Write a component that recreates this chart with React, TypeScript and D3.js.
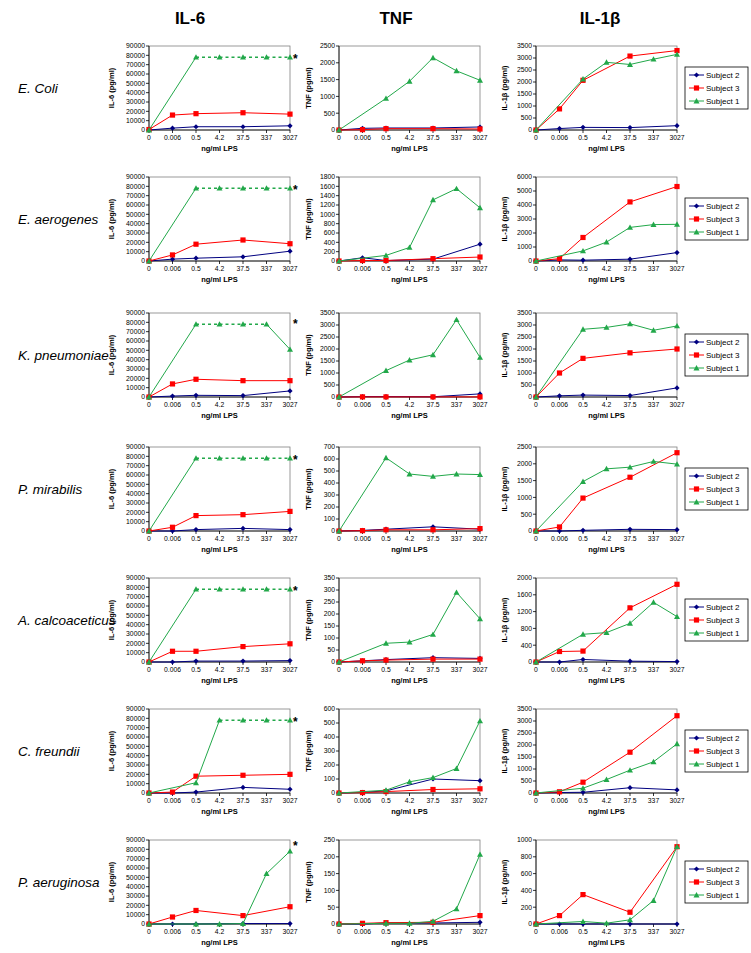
import React from "react";
import * as d3 from "d3";

// ---------- DATA ----------
const CATEGORIES = ["0", "0.006", "0.5", "4.2", "37.5", "337", "3027"];
const CYTOKINES = ["IL-6", "TNF", "IL-1β"];
const Y_TITLES = ["IL-6 (pg/ml)", "TNF (pg/ml)", "IL-1β (pg/ml)"];
const BACTERIA = ["E. Coli", "E. aerogenes", "K. pneumoniae", "P. mirabilis", "A. calcoaceticus", "C. freundii", "P. aeruginosa"];
const SUBJECTS = ["Subject 2", "Subject 3", "Subject 1"];
const SATURATION = 78000;

// y-axis [max, step] per row, for IL-6, TNF, IL-1β
const IL6_AXES = [[90000, 10000], [90000, 10000], [90000, 10000], [90000, 10000], [90000, 10000], [90000, 10000], [90000, 10000]];
const TNF_AXES = [[2500, 500], [1800, 200], [3500, 500], [700, 100], [350, 50], [600, 100], [250, 50]];
const IL1B_AXES = [[3500, 500], [6000, 1000], [3500, 500], [2500, 500], [2000, 400], [3500, 500], [1000, 200]];

// asterisk value level on IL-6 charts
const STAR_LEVEL = [78000, 78000, 80000, 78000, 78000, 78000, 86000];

type V = number | null;
// each: [Subject 2, Subject 3, Subject 1]
const ECOLI_IL6: V[][] = [[0, 2000, 3500, null, 3500, null, 4500], [500, 16000, 17500, null, 18500, null, 17000], [0, null, 78000, 78000, 78000, 78000, 78000]];
const ECOLI_TNF: V[][] = [[0, 50, 60, null, 60, null, 90], [0, 10, 40, null, 40, null, 30], [0, null, 940, 1450, 2150, 1760, 1480]];
const ECOLI_IL1B: V[][] = [[0, 60, 110, null, 100, null, 180], [0, 880, 2070, null, 3080, null, 3310], [0, null, 2120, 2820, 2730, 2950, 3150]];

const EAERO_IL6: V[][] = [[0, 2000, 3000, null, 4500, null, 10500], [0, 6500, 18000, null, 22500, null, 18500], [0, null, 78000, 78000, 78000, 78000, 78000]];
const EAERO_TNF: V[][] = [[0, 70, 10, null, 40, null, 360], [0, 10, 10, null, 50, null, 85], [0, null, 120, 290, 1310, 1550, 1140]];
const EAERO_IL1B: V[][] = [[0, 80, 60, null, 130, null, 600], [0, 170, 1680, null, 4220, null, 5320], [0, null, 720, 1350, 2400, 2600, 2620]];

const KPNEU_IL6: V[][] = [[0, 1000, 1800, null, 1500, null, 6500], [0, 14000, 19000, null, 17500, null, 17500], [0, null, 78000, 78000, 78000, 78000, 51000]];
const KPNEU_TNF: V[][] = [[0, 20, 20, null, 10, null, 130], [0, 5, 5, null, 5, null, 5], [0, null, 1100, 1540, 1760, 3220, 1650]];
const KPNEU_IL1B: V[][] = [[0, 50, 80, null, 60, null, 380], [0, 1000, 1610, null, 1840, null, 2000], [0, null, 2820, 2900, 3050, 2780, 2960]];

const PMIRA_IL6: V[][] = [[0, 0, 1500, null, 2800, null, 1500], [0, 4000, 16500, null, 17500, null, 21000], [0, null, 78000, 78000, 78000, 78000, 78000]];
const PMIRA_TNF: V[][] = [[0, 5, 15, null, 35, null, 15], [0, 3, 10, null, 10, null, 20], [0, null, 610, 475, 455, 475, 470]];
const PMIRA_IL1B: V[][] = [[0, 0, 20, null, 50, null, 40], [0, 120, 980, null, 1600, null, 2330], [0, null, 1470, 1850, 1900, 2070, 1990]];

const ACALC_IL6: V[][] = [[0, 0, 1000, null, 1000, null, 1500], [0, 11500, 11500, null, 16500, null, 19500], [0, null, 78000, 78000, 78000, 78000, 78000]];
const ACALC_TNF: V[][] = [[0, 5, 10, null, 18, null, 15], [0, 5, 8, null, 12, null, 12], [0, null, 78, 83, 115, 290, 180]];
const ACALC_IL1B: V[][] = [[0, 0, 60, null, 20, null, 10], [0, 250, 260, null, 1290, null, 1850], [0, null, 660, 700, 920, 1420, 1080]];

const CFREU_IL6: V[][] = [[0, 0, 1000, null, 6000, null, 4000], [0, 1000, 18000, null, 19000, null, 20000], [0, null, 11000, 78000, 78000, 78000, 78000]];
const CFREU_TNF: V[][] = [[0, 5, 15, null, 100, null, 88], [0, 3, 10, null, 25, null, 30], [0, null, 20, 80, 110, 175, 515]];
const CFREU_IL1B: V[][] = [[0, 20, 30, null, 220, null, 130], [0, 50, 450, null, 1700, null, 3220], [0, null, 200, 560, 950, 1300, 2050]];

const PAERU_IL6: V[][] = [[0, 0, 0, null, 500, null, 500], [0, 7500, 14500, null, 9000, null, 18500], [0, null, 0, 0, 500, 54000, 78000]];
const PAERU_TNF: V[][] = [[0, 0, 3, null, 3, null, 5], [0, 2, 4, null, 5, null, 25], [0, null, 2, 2, 8, 45, 207]];
const PAERU_IL1B: V[][] = [[0, 0, 0, null, 0, null, 0], [0, 100, 350, null, 140, null, 920], [0, null, 30, 10, 50, 280, 920]];

const ROWS_DATA = [
  [ECOLI_IL6, ECOLI_TNF, ECOLI_IL1B],
  [EAERO_IL6, EAERO_TNF, EAERO_IL1B],
  [KPNEU_IL6, KPNEU_TNF, KPNEU_IL1B],
  [PMIRA_IL6, PMIRA_TNF, PMIRA_IL1B],
  [ACALC_IL6, ACALC_TNF, ACALC_IL1B],
  [CFREU_IL6, CFREU_TNF, CFREU_IL1B],
  [PAERU_IL6, PAERU_TNF, PAERU_IL1B],
];
const AXES = [IL6_AXES, TNF_AXES, IL1B_AXES];

// ---------- STYLE / LAYOUT ----------
const COLORS = ["#000080", "#FF0000", "#22A84A"];
const FONT = "Arial, 'Liberation Sans', sans-serif";
const COL_LEFT = [149, 339, 536];
const COL_TITLE_OFF = [-35, -28, -29];
const COL_HEAD_X = [190, 396, 600];
const ROW_TOP = [46, 177, 313, 447, 578, 709, 840];
const PW = 141;
const PH = 84;

function Marker({ kind, x, y, color }: { kind: number; x: number; y: number; color: string }) {
  if (kind === 0) {
    const s = 2.6;
    return <path d={`M${x},${y - s}L${x + s},${y}L${x},${y + s}L${x - s},${y}Z`} fill={color} />;
  }
  if (kind === 1) {
    return <rect x={x - 2.6} y={y - 2.6} width={5.2} height={5.2} fill={color} />;
  }
  const s = 3;
  return <path d={`M${x},${y - s}L${x + s},${y + s * 0.8}L${x - s},${y + s * 0.8}Z`} fill={color} />;
}

function Panel({ row, col }: { row: number; col: number }) {
  const left = COL_LEFT[col];
  const top = ROW_TOP[row];
  const [max, step] = AXES[col][row];
  const series = ROWS_DATA[row][col];
  const x = d3.scalePoint<string>().domain(CATEGORIES).range([0, PW]).padding(0);
  const y = d3.scaleLinear().domain([0, max]).range([PH, 0]);
  const ticks = d3.range(0, max + step / 2, step);
  const line = d3.line<[number, number]>().x((d) => d[0]).y((d) => d[1]);

  return (
    <g transform={`translate(${left},${top})`}>
      <rect x={0} y={0} width={PW} height={PH} fill="none" stroke="#808080" strokeWidth={0.8} />
      {/* y axis */}
      <line x1={0} y1={0} x2={0} y2={PH} stroke="#000" strokeWidth={0.8} />
      {ticks.map((t) => (
        <g key={t}>
          <line x1={-3} x2={0} y1={y(t)} y2={y(t)} stroke="#000" strokeWidth={0.8} />
          <text x={-4} y={y(t) + 2.4} fontSize={6.8} textAnchor="end" fontFamily={FONT} fill="#000">
            {t}
          </text>
        </g>
      ))}
      {/* x axis */}
      <line x1={0} y1={PH} x2={PW} y2={PH} stroke="#000" strokeWidth={0.8} />
      {CATEGORIES.map((c) => (
        <g key={c}>
          <line x1={x(c)} x2={x(c)} y1={PH} y2={PH + 3} stroke="#000" strokeWidth={0.8} />
          <text x={x(c)} y={PH + 9.5} fontSize={6.8} textAnchor="middle" fontFamily={FONT} fill="#000">
            {c}
          </text>
        </g>
      ))}
      <text x={PW / 2} y={PH + 21} fontSize={7.5} fontWeight="bold" textAnchor="middle" fontFamily={FONT}>
        ng/ml LPS
      </text>
      <text
        transform={`translate(${COL_TITLE_OFF[col]},${PH / 2}) rotate(-90)`}
        fontSize={7.5}
        fontWeight="bold"
        textAnchor="middle"
        fontFamily={FONT}
      >
        {Y_TITLES[col]}
      </text>
      {/* series */}
      {series.map((vals, si) => {
        const pts = vals
          .map((v, i) => (v == null ? null : { v, p: [x(CATEGORIES[i])!, y(v)] as [number, number] }))
          .filter((d): d is { v: number; p: [number, number] } => d != null);
        const segs = [];
        for (let i = 0; i < pts.length - 1; i++) {
          const dashed = col === 0 && si === 2 && pts[i].v === SATURATION && pts[i + 1].v === SATURATION;
          segs.push(
            <path
              key={i}
              d={line([pts[i].p, pts[i + 1].p]) || ""}
              fill="none"
              stroke={COLORS[si]}
              strokeWidth={dashed ? 1.5 : 1}
              strokeDasharray={dashed ? "3,3" : undefined}
            />
          );
        }
        return (
          <g key={si}>
            {segs}
            {pts.map((d, i) => (
              <Marker key={i} kind={si} x={d.p[0]} y={d.p[1]} color={COLORS[si]} />
            ))}
          </g>
        );
      })}
      {col === 0 && (
        <text x={PW + 3} y={y(STAR_LEVEL[row]) + 6} fontSize={12} fontWeight="bold" fontFamily={FONT}>
          *
        </text>
      )}
    </g>
  );
}

function Legend({ row }: { row: number }) {
  const cy = ROW_TOP[row] + PH / 2;
  const bx = 685;
  const bw = 63;
  const bh = 42;
  const by = cy - bh / 2;
  return (
    <g>
      <rect x={bx} y={by} width={bw} height={bh} fill="#fff" stroke="#000" strokeWidth={0.8} />
      {SUBJECTS.map((s, i) => {
        const ly = by + 8 + i * 13;
        return (
          <g key={s}>
            <line x1={bx + 4} x2={bx + 19} y1={ly} y2={ly} stroke={COLORS[i]} strokeWidth={1} />
            <Marker kind={i} x={bx + 11.5} y={ly} color={COLORS[i]} />
            <text x={bx + 21} y={ly + 2.8} fontSize={8} fontFamily={FONT}>
              {s}
            </text>
          </g>
        );
      })}
    </g>
  );
}

export default function App() {
  return (
    <svg width={751} height={953} style={{ position: "absolute", left: 0, top: 0, background: "#fff" }}>
      <rect x={0} y={0} width={751} height={953} fill="#fff" />
      {CYTOKINES.map((c, i) => (
        <text key={c} x={COL_HEAD_X[i]} y={24} fontSize={17} fontWeight="bold" textAnchor="middle" fontFamily={FONT}>
          {c}
        </text>
      ))}
      {BACTERIA.map((b, r) => (
        <text key={b} x={18} y={ROW_TOP[r] + PH / 2 + 5} fontSize={13.5} fontStyle="italic" fontFamily={FONT}>
          {b}
        </text>
      ))}
      {ROWS_DATA.map((_, r) => (
        <g key={r}>
          {[0, 1, 2].map((c) => (
            <Panel key={c} row={r} col={c} />
          ))}
          <Legend row={r} />
        </g>
      ))}
    </svg>
  );
}
